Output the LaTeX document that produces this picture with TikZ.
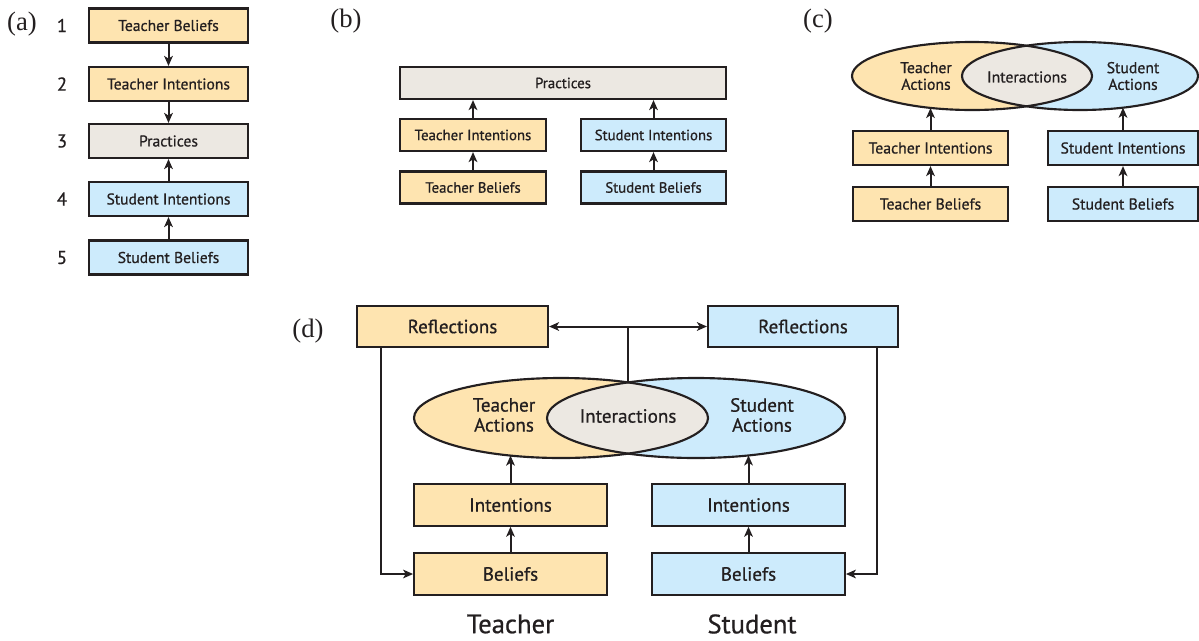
\documentclass[tikz,border=0pt]{standalone}
\usepackage{fontspec}
\setmainfont{PT Sans}[FakeBold=0.7]
\newfontfamily\panelfont{Liberation Serif}
\usetikzlibrary{arrows.meta}
\definecolor{ink}{HTML}{231F20}
\definecolor{tfill}{HTML}{FEE4B0}
\definecolor{sfill}{HTML}{CDEBFC}
\definecolor{pfill}{HTML}{ECE8E2}
\begin{document}
\begin{tikzpicture}[x=0.75pt,y=-0.75pt,
  box/.style={draw=ink, line width=1.6pt, inner sep=0pt, text=ink},
  tbox/.style={box, fill=tfill},
  sbox/.style={box, fill=sfill},
  pbox/.style={box, fill=pfill},
  arr/.style={draw=ink, line width=1.5pt, -{Stealth[length=7.5pt,width=6.5pt,inset=2pt]}},
  wire/.style={draw=ink, line width=1.5pt},
  outline/.style={draw=ink, line width=1.6pt},
  panel/.style={font=\panelfont\fontsize{20}{20}\selectfont, text=ink},
  num/.style={font=\fontsize{14}{14}\selectfont, text=ink},
  asz/.style={minimum width=119.25pt, minimum height=25.5pt, font=\fontsize{11.7}{13}\selectfont},
  bsz/.style={minimum width=109.5pt, minimum height=24pt, font=\fontsize{11.1}{12}\selectfont},
  csz/.style={minimum width=116.25pt, minimum height=25.5pt, font=\fontsize{11.8}{13}\selectfont},
  ctext/.style={text=ink, align=center, font=\fontsize{11.8}{12.5}\selectfont},
  dsz/.style={minimum width=144.5pt, minimum height=31pt, font=\fontsize{14.3}{15}\selectfont},
  dtext/.style={text=ink, align=center, font=\fontsize{14.3}{15}\selectfont},
  who/.style={text=ink, inner sep=0pt, font=\fontsize{20}{20}\selectfont}]
\useasboundingbox (0,0) rectangle (1199,640);

% ---------- (a) a single chain ----------
\node[panel] (pa) at (22,24) {(a)};
\node[tbox,asz] (a1) at (168.5,25.5) {Teacher Beliefs};
\node[tbox,asz] (a2) at (168.5,84) {Teacher Intentions};
\node[pbox,asz] (a3) at (168.5,141) {Practices};
\node[sbox,asz] (a4) at (168.5,199) {Student Intentions};
\node[sbox,asz] (a5) at (168.5,257.5) {Student Beliefs};
\node[num] (n1) at (62,25.5) {1};
\node[num] (n2) at (62,84) {2};
\node[num] (n3) at (62,141) {3};
\node[num] (n4) at (62,199) {4};
\node[num] (n5) at (62,257.5) {5};
\draw[arr] (a1) -- (a2);
\draw[arr] (a2) -- (a3);
\draw[arr] (a4) -- (a3);
\draw[arr] (a5) -- (a4);

% ---------- (b) two chains into shared practices ----------
\node[panel] (pb) at (346,21) {(b)};
\node[pbox,bsz,minimum width=244.5pt] (bP) at (563,83) {Practices};
\node[tbox,bsz] (bTI) at (473,135) {Teacher Intentions};
\node[tbox,bsz] (bTB) at (473,187.5) {Teacher Beliefs};
\node[sbox,bsz,minimum width=108.75pt] (bSI) at (653.5,135) {Student Intentions};
\node[sbox,bsz,minimum width=108.75pt] (bSB) at (653.5,187.5) {Student Beliefs};
\draw[arr] (bTB) -- (bTI);
\draw[arr] (bSB) -- (bSI);
\draw[arr] (bTI.north) -- (bTI.north |- bP.south);
\draw[arr] (bSI.north) -- (bSI.north |- bP.south);

% ---------- (c) overlapping actions ----------
\node[panel] (pc) at (818,21) {(c)};
\coordinate (cL) at (972,76);
\coordinate (cR) at (1080,76);
\fill[tfill] (cL) ellipse [x radius=90pt, y radius=25.5pt];
\fill[sfill] (cR) ellipse [x radius=88.5pt, y radius=25.5pt];
\begin{scope}
  \clip (cL) ellipse [x radius=90pt, y radius=25.5pt];
  \fill[pfill] (cR) ellipse [x radius=88.5pt, y radius=25.5pt];
\end{scope}
\draw[outline] (cL) ellipse [x radius=90pt, y radius=25.5pt];
\draw[outline] (cR) ellipse [x radius=88.5pt, y radius=25.5pt];
\node[ctext] (cTA) at (926,76) {Teacher\\Actions};
\node[ctext] (cIA) at (1027,77) {Interactions};
\node[ctext] (cSA) at (1133,76) {Student\\Actions};
\node[tbox,csz] (cTI) at (930.5,148) {Teacher Intentions};
\node[tbox,csz] (cTB) at (930.5,204) {Teacher Beliefs};
\node[sbox,csz,minimum width=112.5pt] (cSI) at (1123,148) {Student Intentions};
\node[sbox,csz,minimum width=112.5pt] (cSB) at (1123,204) {Student Beliefs};
\coordinate (cTx) at (930.5,108);
\coordinate (cSx) at (1123,107.7);
\draw[arr] (cTB) -- (cTI);
\draw[arr] (cSB) -- (cSI);
\draw[arr] (cTI.north) -- (cTx);
\draw[arr] (cSI.north) -- (cSx);

% ---------- (d) the full cycle with reflections ----------
\node[panel] (pd) at (308,331) {(d)};
\node[tbox,dsz,minimum width=143.25pt,minimum height=30.75pt] (dRT) at (452.5,326.5) {Reflections};
\node[sbox,dsz,minimum width=142.5pt,minimum height=30.75pt] (dRS) at (803,326.5) {Reflections};
\coordinate (dL) at (561,418);
\coordinate (dR) at (696,418);
\fill[tfill] (dL) ellipse [x radius=110.25pt, y radius=30pt];
\fill[sfill] (dR) ellipse [x radius=111.75pt, y radius=30pt];
\begin{scope}
  \clip (dL) ellipse [x radius=110.25pt, y radius=30pt];
  \fill[pfill] (dR) ellipse [x radius=111.75pt, y radius=30pt];
\end{scope}
\draw[outline] (dL) ellipse [x radius=110.25pt, y radius=30pt];
\draw[outline] (dR) ellipse [x radius=111.75pt, y radius=30pt];
\node[dtext] (dTA) at (504,415) {Teacher\\Actions};
\node[dtext] (dIA) at (628,416) {Interactions};
\node[dtext] (dSA) at (762,415) {Student\\Actions};
\node[tbox,dsz] (dTI) at (510.5,505) {Intentions};
\node[tbox,dsz] (dTB) at (510.5,574) {Beliefs};
\node[sbox,dsz] (dSI) at (748.5,505) {Intentions};
\node[sbox,dsz] (dSB) at (748.5,574) {Beliefs};
\coordinate (lens) at (628,382.4);
\coordinate (dTx) at (510.5,455.6);
\coordinate (dSx) at (748.5,455.4);
\draw[arr] (dTB) -- (dTI);
\draw[arr] (dSB) -- (dSI);
\draw[arr] (dTI.north) -- (dTx);
\draw[arr] (dSI.north) -- (dSx);
\draw[wire] (lens) -- (lens |- dRT.east);
\draw[arr] (lens |- dRT.east) -- (dRT.east);
\draw[arr] (lens |- dRT.east) -- (dRS.west);
\draw[arr] ([xshift=18.75pt]dRT.south west) |- (dTB.west);
\draw[arr] ([xshift=-16.5pt]dRS.south east) |- (dSB.east);
\node[who] (wT) at (510.5,624) {Teacher};
\node[who] (wS) at (752,624) {Student};
\end{tikzpicture}
\end{document}
